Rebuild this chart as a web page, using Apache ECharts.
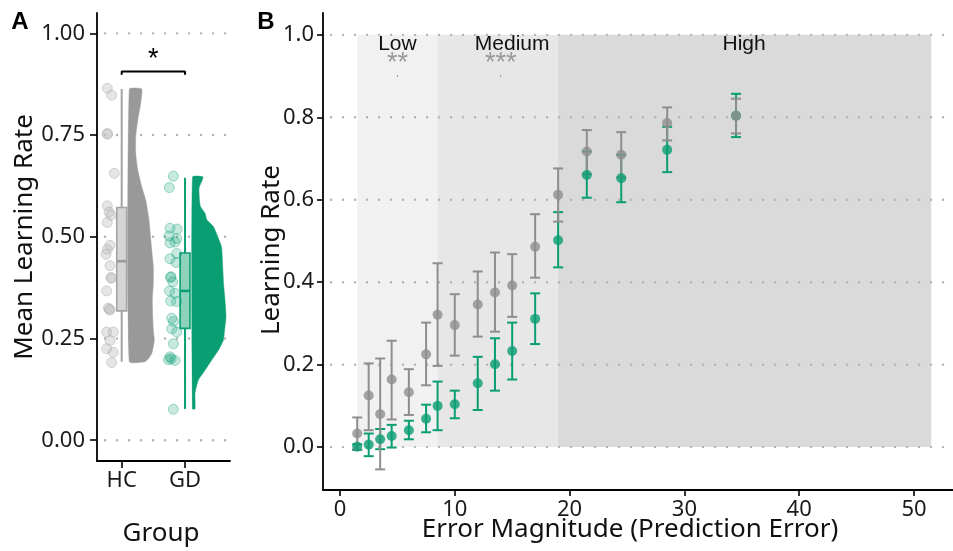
<!DOCTYPE html>
<html><head><meta charset="utf-8">
<script src="https://cdn.jsdelivr.net/npm/echarts@6/dist/echarts.min.js"></script>
<style>html,body{margin:0;padding:0;background:#fff}#c{width:953px;height:551px}</style>
</head><body><div id="c"></div>
<script>
// ---------- Panel A data ----------
const groups = ['HC', 'GD'];
const yTicksA = [0, 0.25, 0.5, 0.75, 1.0];
const hcPointsX = [0.773,0.842,0.773,0.776,0.883,0.773,0.80,0.83,0.773,0.815,0.773,0.752,0.815,0.83,0.839,0.763,0.788,0.815,0.807,0.763,0.867,0.815,0.763,0.867,0.842];
const hcPointsY = [0.865,0.848,0.754,0.752,0.656,0.576,0.561,0.553,0.535,0.479,0.469,0.457,0.429,0.40,0.398,0.367,0.325,0.32,0.322,0.266,0.266,0.245,0.225,0.216,0.191];
const gdPointsX = [1.815,1.752,1.763,1.874,1.747,1.869,1.763,1.842,1.869,1.763,1.858,1.771,1.779,1.806,1.755,1.842,1.774,1.869,1.79,1.818,1.79,1.869,1.815,1.763,1.737,1.78,1.842,1.815];
const gdPointsY = [0.649,0.621,0.521,0.519,0.502,0.496,0.485,0.487,0.459,0.446,0.437,0.400,0.402,0.389,0.367,0.361,0.342,0.341,0.300,0.292,0.274,0.266,0.237,0.205,0.198,0.200,0.196,0.076];
// box stats: [x, lowerWhisker, Q1, median, Q3, upperWhisker]
const hcBox = [1, 0.193, 0.318, 0.44, 0.572, 0.863];
const gdBox = [2, 0.077, 0.275, 0.367, 0.46, 0.645];
// half-violin density profile: base x, y levels, widths (x units)
const hcViolinBase = 1.12;
const hcViolinY = [0.193,0.20,0.213,0.246,0.27,0.30,0.344,0.385,0.426,0.467,0.50,0.541,0.59,0.623,0.664,0.705,0.746,0.787,0.828,0.863];
const hcViolinW = [0.248,0.30,0.354,0.395,0.379,0.37,0.363,0.379,0.379,0.354,0.335,0.311,0.26,0.196,0.133,0.101,0.101,0.133,0.18,0.196];
const gdViolinBase = 2.118;
const gdViolinY = [0.077,0.116,0.148,0.172,0.197,0.221,0.246,0.27,0.303,0.344,0.385,0.426,0.475,0.508,0.525,0.541,0.558,0.574,0.59,0.62,0.647];
const gdViolinW = [0.04,0.04,0.092,0.197,0.303,0.408,0.487,0.506,0.529,0.513,0.49,0.477,0.458,0.379,0.329,0.229,0.197,0.126,0.11,0.103,0.166];
const sigA = {x1: 1, x2: 2, y: 0.906, label: '*'};

// ---------- Panel B data ----------
const xTicksB = [0, 10, 20, 30, 40, 50];
const yTicksB = [0, 0.2, 0.4, 0.6, 0.8, 1.0];
const errMag = [1.5,2.5,3.5,4.5,6,7.5,8.5,10,12,13.5,15,17,19,21.5,24.5,28.5,34.5];
const hcMean = [0.033,0.125,0.080,0.164,0.133,0.225,0.321,0.296,0.346,0.375,0.392,0.486,0.612,0.717,0.709,0.786,0.804];
const hcLo   = [-0.006,0.041,-0.054,0.067,0.078,0.150,0.197,0.222,0.268,0.280,0.316,0.411,0.547,0.662,0.654,0.744,0.761];
const hcHi   = [0.072,0.203,0.215,0.258,0.189,0.302,0.446,0.371,0.426,0.472,0.468,0.565,0.676,0.769,0.764,0.824,0.845];
const gdMean = [0.001,0.006,0.019,0.027,0.041,0.069,0.100,0.104,0.155,0.201,0.233,0.311,0.502,0.660,0.652,0.721,0.804];
const gdLo   = [-0.007,-0.022,-0.005,-0.001,0.019,0.036,0.041,0.070,0.090,0.137,0.164,0.250,0.436,0.605,0.594,0.667,0.752];
const gdHi   = [0.007,0.033,0.044,0.054,0.064,0.103,0.159,0.137,0.219,0.264,0.302,0.373,0.570,0.717,0.709,0.777,0.857];
const regionNames = ['Low', 'Medium', 'High'];
const regionStart = [1.5, 8.5, 19];
const regionEnd = [8.5, 19, 51.5];
const regionLabelX = [5, 15, 35.2];
const sigLabels = ['**', '***'];
const sigLabelX = [5, 14];

// ---------- styling ----------
const GRAY = '#8e8e8e';
const GREEN = '#0a9e73';
const FONT = 'Noto Sans';
const axA = {xmin: 0.61, xmax: 2.71, ymin: -0.051, ymax: 1.05};
const axB = {xmin: -1.48, xmax: 53.4, ymin: -0.104, ymax: 1.053};
const regionColors = ['#f1f1f1', '#e7e7e7', '#dadada'];

const chart = echarts.init(document.getElementById('c'), null, {renderer: 'canvas'});

function gridSeries(idx, ticks, ax) {
  return {
    type: 'custom', xAxisIndex: idx, yAxisIndex: idx, silent: true,
    data: ticks.map(v => [v]),
    renderItem: (p, api) => {
      const v = api.value(0);
      const a = api.coord([ax.xmin, v]), b = api.coord([ax.xmax, v]);
      return {type: 'line', shape: {x1: a[0] + 8, y1: a[1], x2: b[0], y2: b[1]},
        style: {stroke: '#b3b3b3', lineWidth: 2.4, lineDash: [0.1, 11.9], lineCap: 'round'}};
    }
  };
}

function violinSeries(base, ys, ws, color) {
  return {
    type: 'custom', xAxisIndex: 0, yAxisIndex: 0, silent: true,
    data: [[base, ys[0]]],
    renderItem: (p, api) => {
      const pts = [api.coord([base, ys[0]])];
      for (let i = 0; i < ys.length; i++) pts.push(api.coord([base + ws[i], ys[i]]));
      pts.push(api.coord([base, ys[ys.length - 1]]));
      return {type: 'polygon', shape: {points: pts, smooth: 0.15}, style: {fill: color, stroke: color, lineWidth: 0.5}};
    }
  };
}

function boxSeries(box, fill, stroke, medianColor) {
  return {
    type: 'custom', xAxisIndex: 0, yAxisIndex: 0, silent: true,
    data: [box],
    renderItem: (p, api) => {
      const x = api.value(0), hw = 0.078;
      const lo = api.coord([x, api.value(1)]), q1 = api.coord([x - hw, api.value(2)]);
      const med = api.coord([x, api.value(3)]), q3 = api.coord([x + hw, api.value(4)]);
      const hi = api.coord([x, api.value(5)]);
      return {type: 'group', children: [
        {type: 'line', shape: {x1: lo[0], y1: lo[1], x2: hi[0], y2: hi[1]}, style: {stroke: stroke, lineWidth: 2}},
        {type: 'rect', shape: {x: q1[0], y: q3[1], width: q3[0] - q1[0], height: q1[1] - q3[1]},
          style: {fill: fill, stroke: stroke, lineWidth: 1.6}},
        {type: 'line', shape: {x1: q1[0], y1: med[1], x2: q3[0], y2: med[1]}, style: {stroke: medianColor, lineWidth: 2.6}}
      ]};
    }
  };
}

function errSeries(xs, lo, hi, color) {
  return {
    type: 'custom', xAxisIndex: 1, yAxisIndex: 1, silent: true,
    data: xs.map((x, i) => [x, lo[i], hi[i]]),
    renderItem: (p, api) => {
      const a = api.coord([api.value(0), api.value(1)]), b = api.coord([api.value(0), api.value(2)]);
      const s = {stroke: color, lineWidth: 2};
      return {type: 'group', children: [
        {type: 'line', shape: {x1: a[0], y1: a[1], x2: b[0], y2: b[1]}, style: s},
        {type: 'line', shape: {x1: a[0] - 5, y1: a[1], x2: a[0] + 5, y2: a[1]}, style: s},
        {type: 'line', shape: {x1: b[0] - 5, y1: b[1], x2: b[0] + 5, y2: b[1]}, style: s}
      ]};
    }
  };
}

function textSeries(idx, items) {
  // items: [x, y, text, fontSize, color, fontFamily]
  return {
    type: 'custom', xAxisIndex: idx, yAxisIndex: idx, silent: true,
    data: items.map((it, i) => [it[0], it[1], i]),
    renderItem: (p, api) => {
      const it = items[api.value(2)];
      const c = api.coord([api.value(0), api.value(1)]);
      return {type: 'text', x: c[0], y: c[1],
        style: {text: it[2], fontSize: it[3], fill: it[4], fontFamily: it[5],
          align: 'center', verticalAlign: 'middle', textAlign: 'center', textVerticalAlign: 'middle'}};
    }
  };
}

const axisLineStyle = {show: true, onZero: false, lineStyle: {color: '#000', width: 1.8}};
const tickStyle = (vals, len) => ({show: true, customValues: vals, length: len, lineStyle: {color: '#000', width: 1.6}});
const labelStyle = (vals, fmt, margin) => ({show: true, customValues: vals, formatter: fmt, margin: margin,
  fontSize: 22, fontFamily: FONT, color: '#1a1a1a'});

const option = {
  animation: false,
  backgroundColor: '#fff',
  grid: [
    {left: 97, top: 13, width: 133, height: 448},
    {left: 323, top: 13, width: 630, height: 477}
  ],
  xAxis: [
    {type: 'value', gridIndex: 0, min: axA.xmin, max: axA.xmax, axisLine: axisLineStyle,
      axisTick: tickStyle([1, 2], 7), axisLabel: labelStyle([1, 2], v => groups[Math.round(v) - 1], 9), splitLine: {show: false}},
    {type: 'value', gridIndex: 1, min: axB.xmin, max: axB.xmax, axisLine: axisLineStyle,
      axisTick: tickStyle(xTicksB, 6), axisLabel: labelStyle(xTicksB, v => String(v), 9), splitLine: {show: false}}
  ],
  yAxis: [
    {type: 'value', gridIndex: 0, min: axA.ymin, max: axA.ymax, axisLine: axisLineStyle,
      axisTick: tickStyle(yTicksA, 7), axisLabel: labelStyle(yTicksA, v => v.toFixed(2), 12), splitLine: {show: false}},
    {type: 'value', gridIndex: 1, min: axB.ymin, max: axB.ymax, axisLine: axisLineStyle,
      axisTick: tickStyle(yTicksB, 6), axisLabel: labelStyle(yTicksB, v => v.toFixed(1), 9), splitLine: {show: false}}
  ],
  series: [
    // Panel A
    gridSeries(0, yTicksA, axA),
    violinSeries(hcViolinBase, hcViolinY, hcViolinW, '#999999'),
    violinSeries(gdViolinBase, gdViolinY, gdViolinW, GREEN),
    boxSeries(hcBox, '#d5d5d5', '#a3a3a3', '#9a9a9a'),
    boxSeries(gdBox, '#8fd2bb', GREEN, GREEN),
    {type: 'scatter', xAxisIndex: 0, yAxisIndex: 0, silent: true, symbolSize: 10,
      data: hcPointsX.map((x, i) => [x, hcPointsY[i]]),
      itemStyle: {color: 'rgba(190,190,190,0.5)', borderColor: 'rgba(160,160,160,0.5)', borderWidth: 1}},
    {type: 'scatter', xAxisIndex: 0, yAxisIndex: 0, silent: true, symbolSize: 10,
      data: gdPointsX.map((x, i) => [x, gdPointsY[i]]),
      itemStyle: {color: 'rgba(10,158,115,0.28)', borderColor: 'rgba(10,158,115,0.45)', borderWidth: 1}},
    {type: 'line', xAxisIndex: 0, yAxisIndex: 0, silent: true, symbol: 'none',
      data: [[sigA.x1, sigA.y - 0.008], [sigA.x1, sigA.y], [sigA.x2, sigA.y], [sigA.x2, sigA.y - 0.008]],
      lineStyle: {color: '#000', width: 2}},
    textSeries(0, [[(sigA.x1 + sigA.x2) / 2, 0.935, sigA.label, 27, '#000', 'Liberation Sans']]),
    // Panel B
    {type: 'custom', xAxisIndex: 1, yAxisIndex: 1, silent: true,
      data: regionStart.map((s, i) => [s, regionEnd[i], i]),
      renderItem: (p, api) => {
        const a = api.coord([api.value(0), 1.0]), b = api.coord([api.value(1), 0]);
        return {type: 'rect', shape: {x: a[0], y: a[1], width: b[0] - a[0], height: b[1] - a[1]},
          style: {fill: regionColors[api.value(2)]}};
      }},
    gridSeries(1, yTicksB, axB),
    {type: 'scatter', xAxisIndex: 1, yAxisIndex: 1, silent: true, symbolSize: 10,
      data: errMag.map((x, i) => [x, gdMean[i]]), itemStyle: {color: GREEN}},
    {type: 'scatter', xAxisIndex: 1, yAxisIndex: 1, silent: true, symbolSize: 10,
      data: errMag.map((x, i) => [x, hcMean[i]]), itemStyle: {color: GRAY}},
    errSeries(errMag, gdLo, gdHi, GREEN),
    errSeries(errMag, hcLo, hcHi, GRAY),
    textSeries(1, [
      ...regionNames.map((n, i) => [regionLabelX[i], 0.978, n, 21, '#111', 'Liberation Sans']),
      ...sigLabels.map((s, i) => [sigLabelX[i], 0.93, s, 27, '#9a9a9a', 'Liberation Sans']),
      ...sigLabelX.map(x => [x, 0.905, '.', 12, '#8a8a8a', 'Liberation Sans'])
    ])
  ],
  graphic: [
    {type: 'text', x: 20, y: 22, style: {text: 'A', fontSize: 24, fontWeight: 'bold', fontFamily: 'Liberation Sans', fill: '#000', align: 'center', verticalAlign: 'middle', textAlign: 'center', textVerticalAlign: 'middle'}},
    {type: 'text', x: 266, y: 22, style: {text: 'B', fontSize: 24, fontWeight: 'bold', fontFamily: 'Liberation Sans', fill: '#000', align: 'center', verticalAlign: 'middle', textAlign: 'center', textVerticalAlign: 'middle'}},
    {type: 'text', x: 25, y: 237, rotation: Math.PI / 2, style: {text: 'Mean Learning Rate', fontSize: 26, fontFamily: FONT, fill: '#111', align: 'center', verticalAlign: 'middle', textAlign: 'center', textVerticalAlign: 'middle'}},
    {type: 'text', x: 161, y: 534, style: {text: 'Group', fontSize: 26, fontFamily: FONT, fill: '#111', align: 'center', verticalAlign: 'middle', textAlign: 'center', textVerticalAlign: 'middle'}},
    {type: 'text', x: 272, y: 250, rotation: Math.PI / 2, style: {text: 'Learning Rate', fontSize: 26, fontFamily: FONT, fill: '#111', align: 'center', verticalAlign: 'middle', textAlign: 'center', textVerticalAlign: 'middle'}},
    {type: 'text', x: 630, y: 530, style: {text: 'Error Magnitude (Prediction Error)', fontSize: 26, fontFamily: FONT, fill: '#111', align: 'center', verticalAlign: 'middle', textAlign: 'center', textVerticalAlign: 'middle'}}
  ]
};
chart.setOption(option);
</script></body></html>
